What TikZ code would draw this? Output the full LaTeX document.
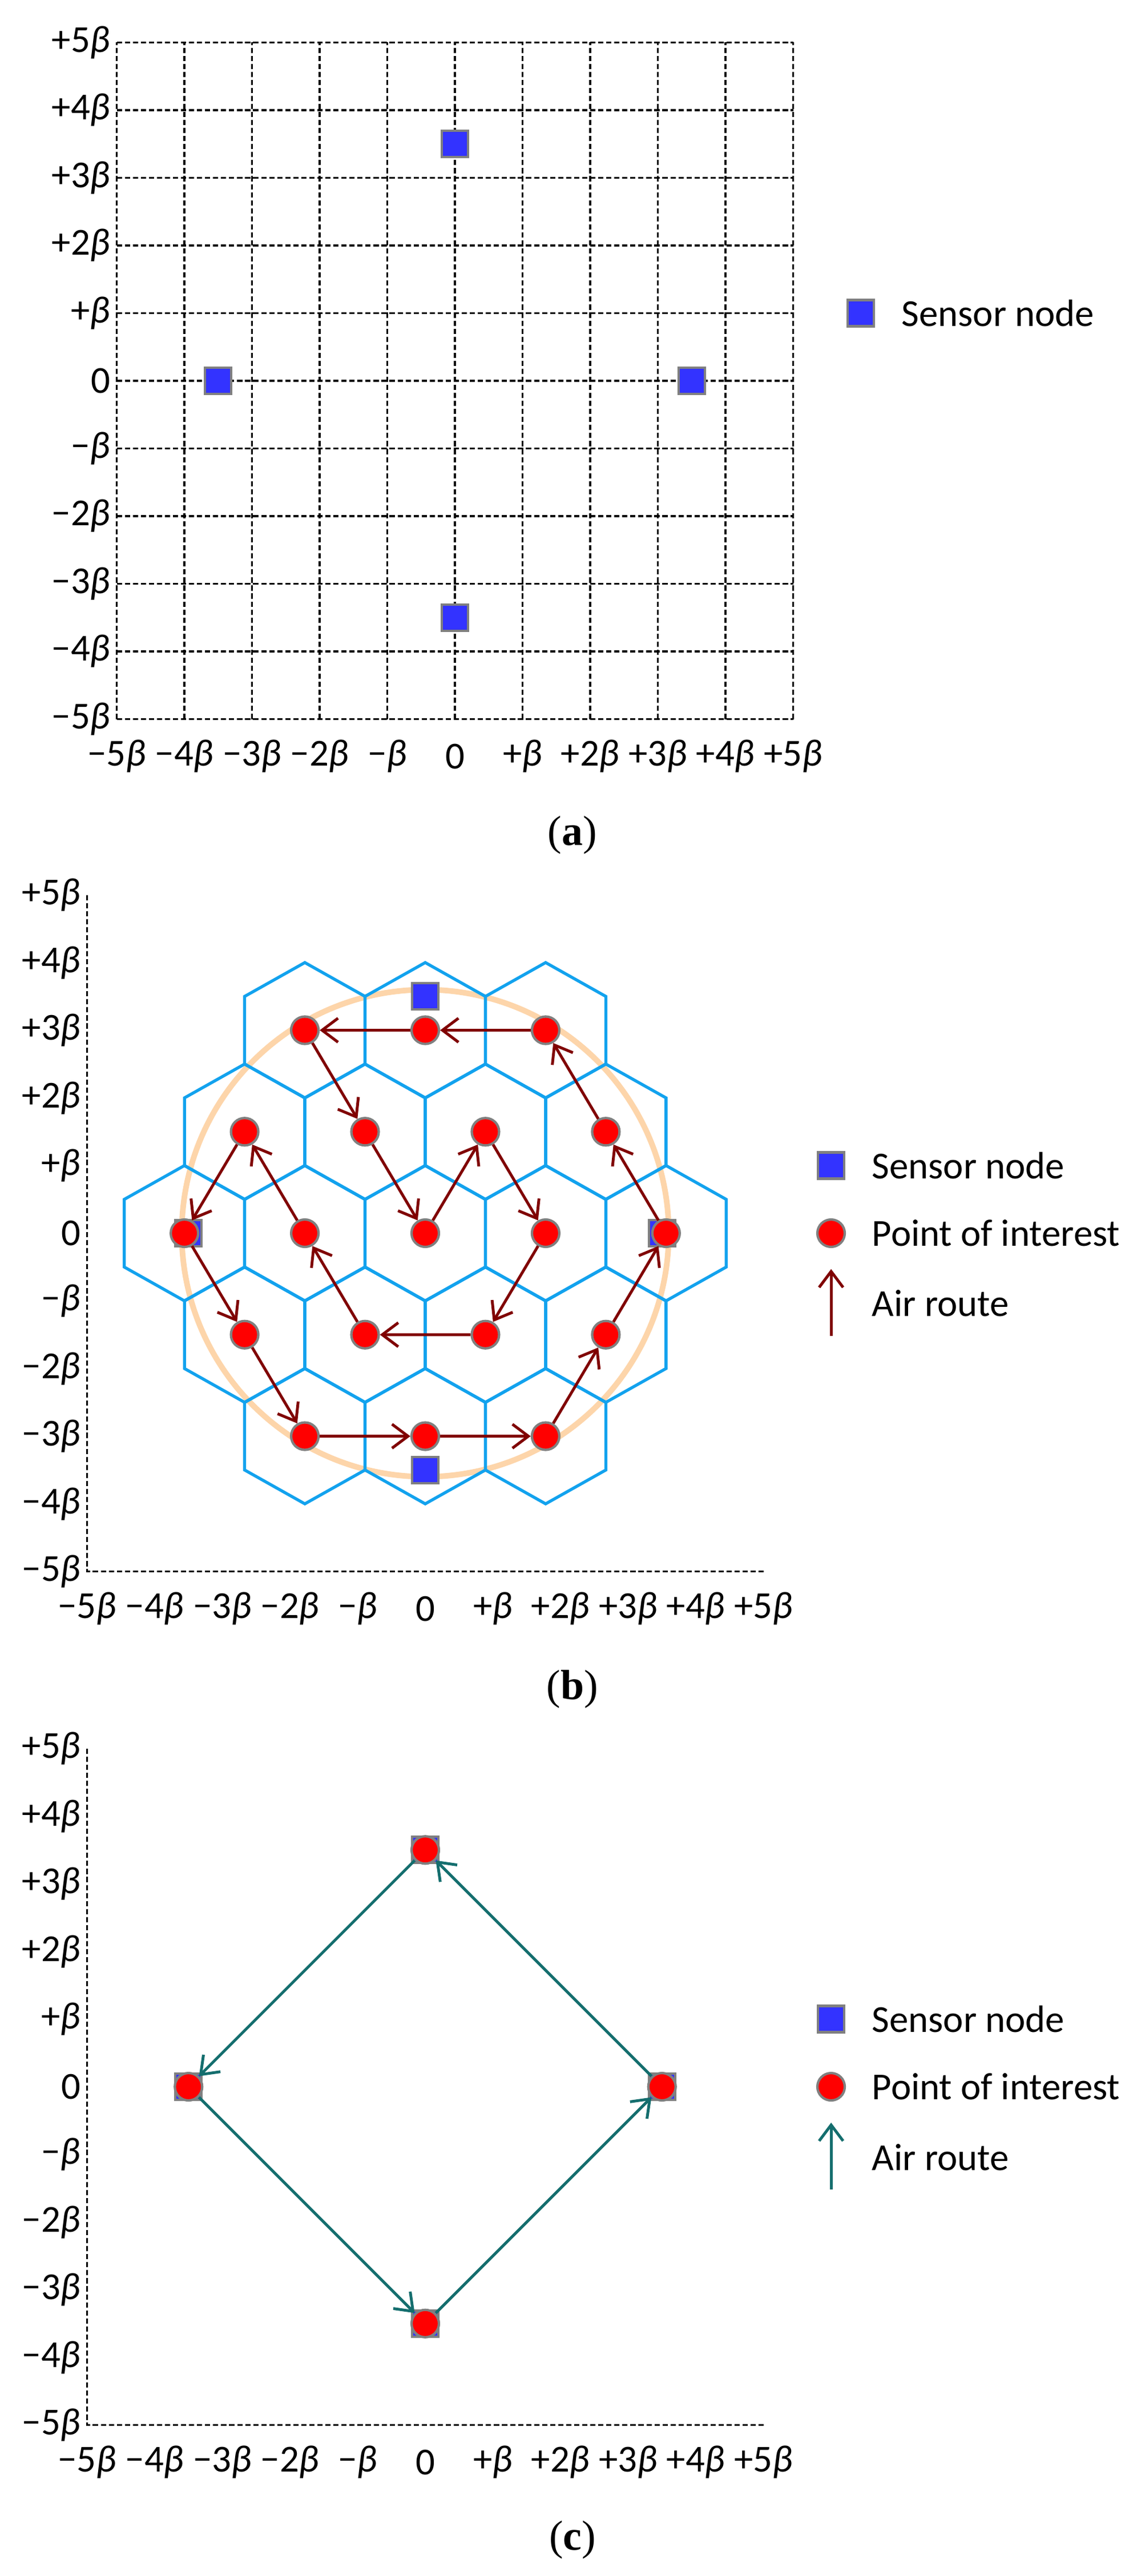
\documentclass[tikz,border=0pt]{standalone}
\usepackage{fontspec}
\setmainfont{Carlito}
\newfontfamily\capfont{Liberation Serif}
\usetikzlibrary{arrows.meta}
\definecolor{sensblue}{RGB}{51,51,255}
\definecolor{hexblue}{RGB}{18,162,238}
\definecolor{peach}{RGB}{253,213,170}
\definecolor{routered}{RGB}{128,0,0}
\definecolor{routeteal}{RGB}{20,110,110}
\newcommand\bb{{\itshape β}}
\tikzset{
  gridl/.style={black,line width=0.9pt,dash pattern=on 2.6pt off 1.4pt},
  sensor/.style={rectangle,fill=sensblue,draw=gray,line width=1.2pt,minimum size=0.46cm,inner sep=0pt},
  poi/.style={circle,fill=red,draw=gray,line width=1.2pt,minimum size=0.48cm,inner sep=0pt},
  hex/.style={hexblue,line width=1.5pt,line join=miter},
  routeb/.style={routered,line width=1.4pt,-{Straight Barb[length=0.28cm,width=0.42cm,line width=1.4pt]}},
  routec/.style={routeteal,line width=1.4pt,-{Straight Barb[length=0.28cm,width=0.42cm,line width=1.4pt]}},
  lab/.style={font=\fontsize{19}{22}\selectfont,inner sep=1pt},
  leg/.style={font=\fontsize{19}{22}\selectfont,anchor=west,inner sep=0pt},
  captxt/.style={font=\capfont\fontsize{21}{24}\selectfont}
}
\newcommand\axlabels[1]{%
  \foreach \v/\t in {5/+5\bb,4/+4\bb,3/+3\bb,2/+2\bb,1/+\bb,0/0,-1/−\bb,-2/−2\bb,-3/−3\bb,-4/−4\bb,-5/−5\bb}{
    \node[lab,anchor=east] (#1y\v) at (-5.06,\v) {\t};
    \node[lab,anchor=center] (#1x\v) at (\v,-5.55) {\t};
  }}
\begin{document}
\begin{tikzpicture}
\useasboundingbox[fill=white] (0,0) rectangle (19.91,-45.12);

% ---------- panel (a)
\begin{scope}[shift={(7.97,-6.67)},scale=1.185]
  \foreach \k in {-5,...,5}{
    \draw[gridl] (-5,\k) -- (5,\k);
    \draw[gridl] (\k,-5) -- (\k,5);
  }
  \axlabels{a}
  \node[sensor] (aS1) at (0,3.5) {};
  \node[sensor] (aS2) at (-3.5,0) {};
  \node[sensor] (aS3) at (3.5,0) {};
  \node[sensor] (aS4) at (0,-3.5) {};
  \node[sensor] (aLs) at (6.0,1) {};
  \node[leg] (aLt) at (6.6,1) {Sensor node};
\end{scope}
\node[captxt] (capa) at (10.03,-14.63) {(\textbf{a})};

% ---------- panel (b)
\begin{scope}[shift={(7.45,-21.60)},scale=1.185]
  \draw[gridl] (-5,5) -- (-5,-5) -- (5,-5);
  \axlabels{b}
  \draw[peach,line width=2.8pt] (0,0) circle (3.6);
  \foreach \cx/\cy in {-1.78/3,0/3,1.78/3,
      -2.67/1.5,-0.89/1.5,0.89/1.5,2.67/1.5,
      -3.56/0,-1.78/0,0/0,1.78/0,3.56/0,
      -2.67/-1.5,-0.89/-1.5,0.89/-1.5,2.67/-1.5,
      -1.78/-3,0/-3,1.78/-3}{
    \draw[hex] (\cx,\cy) +(0,1) -- +(0.89,0.5) -- +(0.89,-0.5) -- +(0,-1) -- +(-0.89,-0.5) -- +(-0.89,0.5) -- cycle;
  }
  \node[sensor] (bS1) at (0,3.5) {};
  \node[sensor] (bS2) at (-3.5,0) {};
  \node[sensor] (bS3) at (3.5,0) {};
  \node[sensor] (bS4) at (0,-3.5) {};
  \foreach \n/\x/\y in {A/-1.78/3,B/0/3,C/1.78/3,
      D/-2.67/1.5,E/-0.89/1.5,F/0.89/1.5,G/2.67/1.5,
      H/-3.56/0,I/-1.78/0,J/0/0,K/1.78/0,L/3.56/0,
      M/-2.67/-1.5,N/-0.89/-1.5,O/0.89/-1.5,P/2.67/-1.5,
      Q/-1.78/-3,R/0/-3,S/1.78/-3}{
    \node[poi] (b\n) at (\x,\y) {};
  }
  \foreach \a/\b in {C/B,B/A,A/E,E/J,J/F,F/K,K/O,O/N,N/I,I/D,D/H,H/M,M/Q,Q/R,R/S,S/P,P/L,L/G,G/C}{
    \draw[routeb] (b\a) -- (b\b);
  }
  \node[sensor] (bLs) at (6.0,1) {};
  \node[leg] (bLst) at (6.6,1) {Sensor node};
  \node[poi] (bLp) at (6.0,0) {};
  \node[leg] (bLpt) at (6.6,0) {Point of interest};
  \coordinate (bLa1) at (6.0,-1.52);
  \coordinate (bLa2) at (6.0,-0.53);
  \draw[routeb] (bLa1) -- (bLa2);
  \node[leg] (bLat) at (6.6,-1.04) {Air route};
\end{scope}
\node[captxt] (capb) at (10.03,-29.59) {(\textbf{b})};

% ---------- panel (c)
\begin{scope}[shift={(7.45,-36.55)},scale=1.185]
  \draw[gridl] (-5,5) -- (-5,-5) -- (5,-5);
  \axlabels{c}
  \node[sensor] (cS1) at (0,3.5) {};
  \node[sensor] (cS2) at (-3.5,0) {};
  \node[sensor] (cS3) at (3.5,0) {};
  \node[sensor] (cS4) at (0,-3.5) {};
  \node[poi] (cT) at (0,3.5) {};
  \node[poi] (cL) at (-3.5,0) {};
  \node[poi] (cR) at (3.5,0) {};
  \node[poi] (cB) at (0,-3.5) {};
  \draw[routec] (cB) -- (cR);
  \draw[routec] (cR) -- (cT);
  \draw[routec] (cT) -- (cL);
  \draw[routec] (cL) -- (cB);
  \node[sensor] (cLs) at (6.0,1) {};
  \node[leg] (cLst) at (6.6,1) {Sensor node};
  \node[poi] (cLp) at (6.0,0) {};
  \node[leg] (cLpt) at (6.6,0) {Point of interest};
  \coordinate (cLa1) at (6.0,-1.52);
  \coordinate (cLa2) at (6.0,-0.53);
  \draw[routec] (cLa1) -- (cLa2);
  \node[leg] (cLat) at (6.6,-1.04) {Air route};
\end{scope}
\node[captxt] (capc) at (10.03,-44.49) {(\textbf{c})};
\end{tikzpicture}
\end{document}
